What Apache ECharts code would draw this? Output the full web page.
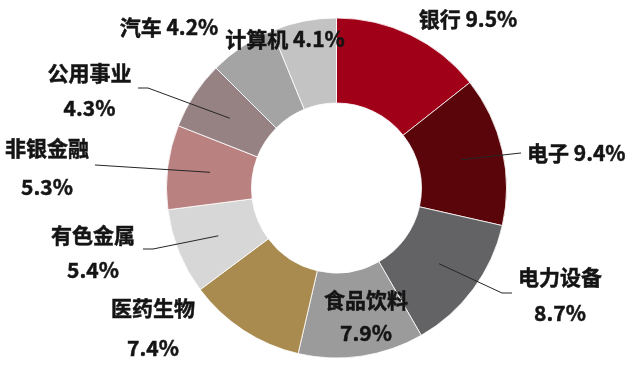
<!DOCTYPE html>
<html><head><meta charset="utf-8">
<script src="https://cdn.jsdelivr.net/npm/echarts@6/dist/echarts.min.js"></script>
<style>html,body{margin:0;padding:0;background:#fff}#c{width:633px;height:367px}</style>
</head><body><div id="c"></div>
<script>
const categories = ['银行','电子','电力设备','食品饮料','医药生物','有色金属','非银金融','公用事业','汽车','计算机'];
const weights = [9.5, 9.4, 8.7, 7.9, 7.4, 5.4, 5.3, 4.3, 4.2, 4.1];
const sliceColors = ['#A10019','#5A0509','#636365','#9B9B9B','#A98B50','#D7D7D7','#BA8181','#968282','#A4A4A4','#C3C3C3'];

// label placement (layout only)
const labelSpots = [
  {x:468, y:19, align:'center', wrap:false},
  {x:527, y:153, align:'left', wrap:false, line:[[516,153.5],[521,153]]},
  {x:560, y:295, align:'center', wrap:true, lh:36, line:[[502,293],[512,293]]},
  {x:366, y:316.5, align:'center', wrap:true, lh:33},
  {x:153, y:328, align:'center', wrap:true, lh:40},
  {x:93, y:252.5, align:'center', wrap:true, lh:35, line:[[153,249],[143,249]]},
  {x:47, y:167.5, align:'center', wrap:true, lh:39, line:[[100,165.3],[95,165]]},
  {x:89.5, y:90.5, align:'center', wrap:true, lh:35, line:[[148,88],[138,88]]},
  {x:169, y:27, align:'center', wrap:false},
  {x:285, y:39, align:'center', wrap:false}
];
const CX = 336.5, CY = 188, R_IN = 85, R_OUT = 170;

const chart = echarts.init(document.getElementById('c'), null, {renderer:'canvas'});
const sliceData = categories.map((name, i) => ({
  name: name, value: weights[i], itemStyle: {color: sliceColors[i]}
}));
const labelData = categories.map((name, i) => ({
  name: name,
  value: weights[i],
  label: {lineHeight: labelSpots[i].lh || 24},
  labelLine: {show: !!labelSpots[i].line}
}));
chart.setOption({
  backgroundColor: '#ffffff',
  animation: false,
  series: [{
    type: 'pie',
    z: 2,
    center: [CX, CY],
    radius: [R_IN, R_OUT],
    startAngle: 90,
    clockwise: true,
    silent: true,
    itemStyle: {borderColor: '#ffffff', borderWidth: 0.8},
    label: {show: false},
    labelLine: {show: false},
    data: sliceData
  }, {
    type: 'pie',
    z: 5,
    center: [CX, CY],
    radius: [R_IN, R_OUT],
    startAngle: 90,
    clockwise: true,
    avoidLabelOverlap: false,
    silent: true,
    itemStyle: {color: 'rgba(0,0,0,0)', borderWidth: 0},
    label: {
      show: true,
      position: 'outside',
      fontSize: 21,
      fontWeight: 'bold',
      color: '#141414',
      textBorderColor: '#141414',
      textBorderWidth: 0.5,
      fontFamily: "'Noto Sans CJK SC', sans-serif",
      formatter: function (p) {
        const v = p.value.toFixed(1) + '%';
        return labelSpots[p.dataIndex].wrap ? p.name + '\n' + v : p.name + ' ' + v;
      }
    },
    labelLine: {show: true, lineStyle: {color: '#262626', width: 1}},
    labelLayout: function (params) {
      const s = labelSpots[params.dataIndex];
      const res = {x: s.x, y: s.y, align: s.align, verticalAlign: 'middle'};
      if (s.line && params.labelLinePoints) {
        const p0 = params.labelLinePoints[0];
        const dx = p0[0] - CX, dy = p0[1] - CY;
        const d = Math.hypot(dx, dy) || 1;
        const rm = (R_IN + R_OUT) / 2;
        res.labelLinePoints = [[CX + dx / d * rm, CY + dy / d * rm], s.line[0], s.line[1]];
      }
      return res;
    },
    data: labelData
  }]
});
</script>
</body></html>
